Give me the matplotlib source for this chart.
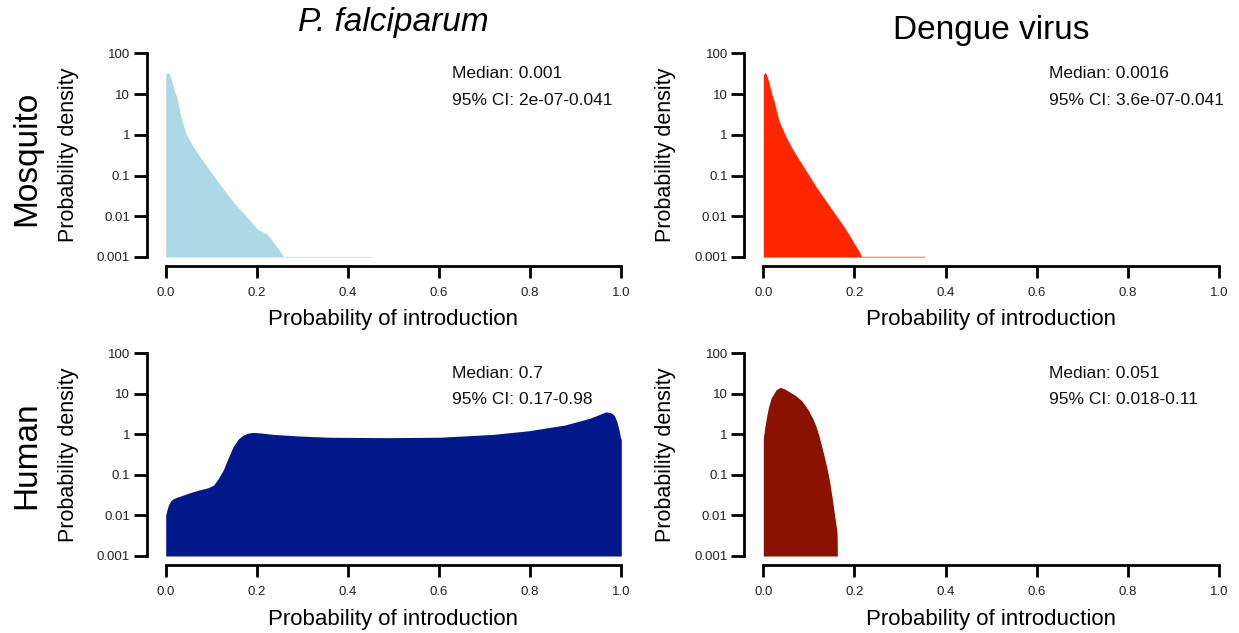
import matplotlib

matplotlib.use("Agg")
from matplotlib import pyplot as plt
from matplotlib.ticker import FixedLocator, FixedFormatter, NullLocator

plt.rcParams["font.family"] = ["Liberation Sans", "DejaVu Sans"]

# density curves (x = probability of introduction)
pf_mosq_x = [0.0, 0.004, 0.008, 0.013, 0.018, 0.024, 0.03, 0.035, 0.046, 0.06,
             0.075, 0.112, 0.149, 0.178, 0.2, 0.212, 0.223, 0.238, 0.25, 0.259,
             0.26, 0.452]
pf_mosq_y = [30, 34, 31, 22, 13, 8.6, 4.2, 2.3, 1.0, 0.52,
             0.29, 0.077, 0.022, 0.0097, 0.005, 0.0042, 0.0036, 0.0022, 0.0014, 0.001,
             0.00104, 0.00104]

dv_mosq_x = [0.0, 0.004, 0.008, 0.013, 0.018, 0.024, 0.03, 0.035, 0.05, 0.064,
             0.079, 0.116, 0.152, 0.182, 0.2, 0.21, 0.216, 0.217, 0.354]
dv_mosq_y = [30, 34, 28, 18, 10.5, 6.5, 3.4, 2.1, 0.89, 0.45,
             0.24, 0.053, 0.014, 0.0046, 0.0021, 0.0014, 0.001, 0.00104, 0.00104]

pf_hum_x = [0.0, 0.003, 0.006, 0.011, 0.017, 0.028, 0.039, 0.055, 0.075, 0.092,
            0.105, 0.115, 0.126, 0.137, 0.148, 0.16, 0.17, 0.18, 0.192, 0.21,
            0.236, 0.295, 0.358, 0.484, 0.601, 0.719, 0.797, 0.876, 0.931, 0.955,
            0.966, 0.978, 0.985, 0.99, 0.995, 0.998, 1.0]
pf_hum_y = [0.0102, 0.014, 0.018, 0.023, 0.026, 0.029, 0.032, 0.037, 0.043, 0.048,
            0.056, 0.08, 0.13, 0.26, 0.5, 0.78, 0.96, 1.07, 1.12, 1.08,
            1.0, 0.91, 0.85, 0.83, 0.85, 1.0, 1.23, 1.7, 2.5, 3.2,
            3.6, 3.4, 2.9, 2.1, 1.3, 0.85, 0.75]

dv_hum_x = [0.0, 0.003, 0.006, 0.011, 0.017, 0.028, 0.037, 0.047, 0.057, 0.07,
            0.083, 0.093, 0.101, 0.109, 0.116, 0.123, 0.13, 0.138, 0.145, 0.151,
            0.156, 0.16, 0.162, 0.1625]
dv_hum_y = [0.8, 1.4, 2.3, 4.5, 7.8, 12.5, 14.5, 13.2, 11.3, 9.2,
            7.0, 5.0, 3.6, 2.4, 1.55, 0.85, 0.42, 0.18, 0.075, 0.028,
            0.011, 0.0055, 0.0036, 0.001]

col_titles = ["P. falciparum", "Dengue virus"]
row_titles = ["Mosquito", "Human"]
medians = ["0.001", "0.0016", "0.7", "0.051"]
cis = ["2e-07-0.041", "3.6e-07-0.041", "0.17-0.98", "0.018-0.11"]
colors = ["#ADD8E6", "#FF2600", "#02198B", "#8B1200"]

y_ticks = [0.001, 0.01, 0.1, 1, 10, 100]
y_labels = ["0.001", "0.01", "0.1", "1", "10", "100"]
x_ticks = [0.0, 0.2, 0.4, 0.6, 0.8, 1.0]
x_labels = ["0.0", "0.2", "0.4", "0.6", "0.8", "1.0"]

W, H = 1239, 633
fig = plt.figure(figsize=(W / 100, H / 100), dpi=100)
fig.patch.set_facecolor("#FFFFFF")


def add_axes_px(left, top, right, bottom):
    return fig.add_axes([left / W, 1 - bottom / H, (right - left) / W, (bottom - top) / H])


boxes = [
    (165.7, 53.3, 621.3, 257.0),
    (763.3, 53.3, 1218.9, 257.0),
    (165.7, 353.3, 621.3, 556.0),
    (763.3, 353.3, 1218.9, 556.0),
]
series = [
    (pf_mosq_x, pf_mosq_y),
    (dv_mosq_x, dv_mosq_y),
    (pf_hum_x, pf_hum_y),
    (dv_hum_x, dv_hum_y),
]

for i, (box, (xs, ys)) in enumerate(zip(boxes, series)):
    ax = add_axes_px(*box)
    ax.fill_between(xs, ys, 0.001, color=colors[i], linewidth=0)
    ax.set_yscale("log")
    ax.set_xlim(0, 1)
    ax.set_ylim(0.001, 100)

    ax.yaxis.set_major_locator(FixedLocator(y_ticks))
    ax.yaxis.set_major_formatter(FixedFormatter(y_labels))
    ax.yaxis.set_minor_locator(NullLocator())
    ax.xaxis.set_major_locator(FixedLocator(x_ticks))
    ax.xaxis.set_major_formatter(FixedFormatter(x_labels))

    for side in ("top", "right"):
        ax.spines[side].set_visible(False)
    ax.spines["left"].set_position(("outward", 13.7))
    ax.spines["bottom"].set_position(("outward", 6.5))
    ax.spines["left"].set_linewidth(2)
    ax.spines["bottom"].set_linewidth(2)
    ax.spines["left"].set_capstyle("projecting")
    ax.spines["bottom"].set_capstyle("projecting")
    ax.tick_params(axis="y", length=9.4, width=2, pad=2.5, labelsize=9.5,
                   labelcolor="#222222")
    ax.tick_params(axis="x", length=8.6, width=2, pad=6.5, labelsize=9.5,
                   labelcolor="#222222")
    ax.set_facecolor("none")

    ax.text(0.628, 0.90, "Median: " + medians[i], transform=ax.transAxes,
            fontsize=12.5, ha="left", va="center", color="#111111")
    ax.text(0.628, 0.77, "95% CI: " + cis[i], transform=ax.transAxes,
            fontsize=12.5, ha="left", va="center", color="#111111")

    left, top, right, bottom = box
    cx = (left + right) / 2
    fig.text(cx / W, 1 - (bottom + 63) / H, "Probability of introduction",
             fontsize=16, ha="center", va="center")
    fig.text((left - 97.5) / W, 1 - ((top + bottom) / 2) / H, "Probability density",
             fontsize=15.5, rotation=90, ha="center", va="center")

# column and row headers
fig.text(393.5 / W, 1 - 22 / H, col_titles[0], fontsize=24, style="italic",
         ha="center", va="center")
fig.text(991 / W, 1 - 30 / H, col_titles[1], fontsize=24, ha="center", va="center")
fig.text(27 / W, 1 - 158 / H, row_titles[0], fontsize=24, rotation=90,
         ha="center", va="center")
fig.text(27 / W, 1 - 455 / H, row_titles[1], fontsize=24, rotation=90,
         ha="center", va="center")

fig.savefig("out.png", dpi=100)
